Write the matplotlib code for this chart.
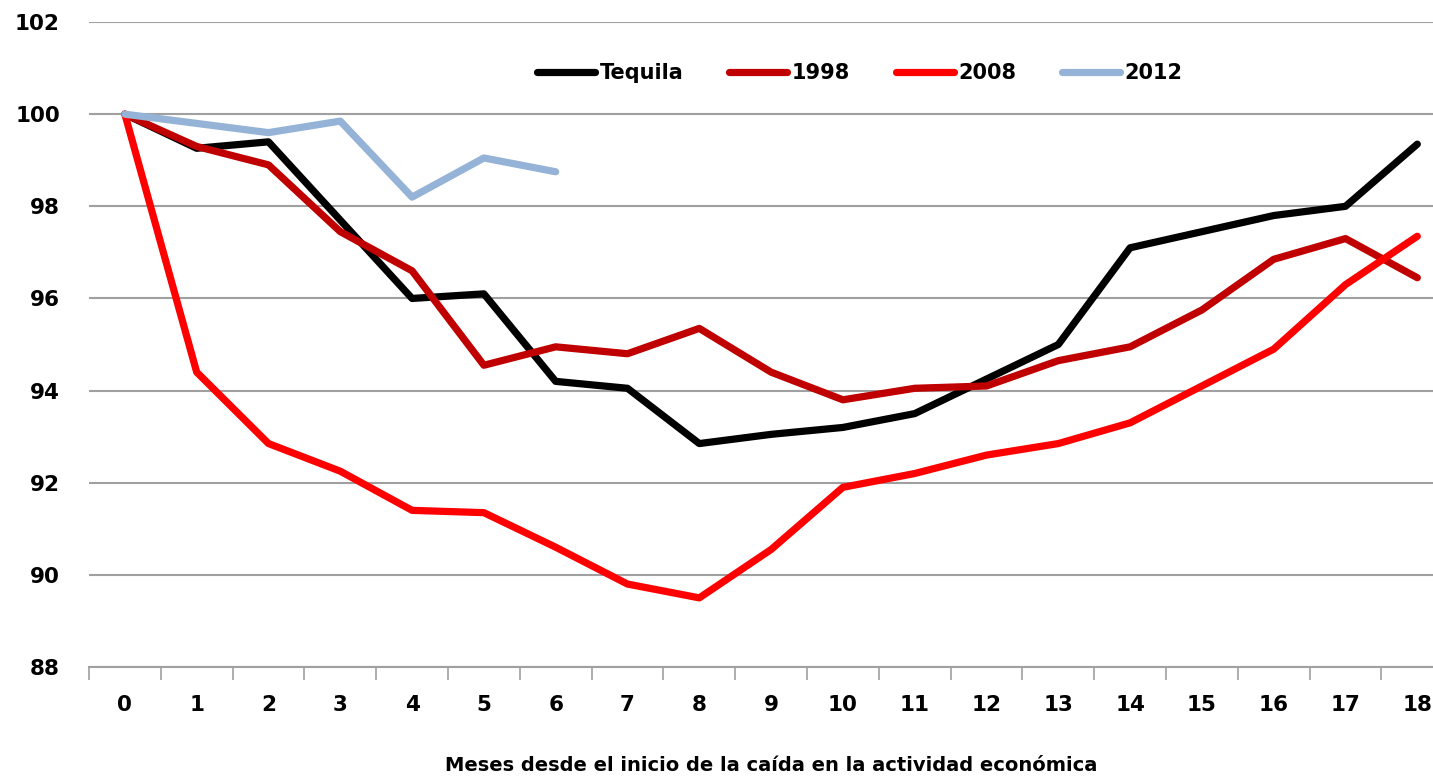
import matplotlib.pyplot as plt
import numpy as np

months = list(range(19))
tequila = [100, 99.26, 99.4, 97.7, 96.0, 96.1, 94.2, 94.05, 92.85, 93.05, 93.2,
           93.5, 94.25, 95.0, 97.1, 97.45, 97.8, 98.0, 99.35]
y1998 = [100, 99.3, 98.9, 97.45, 96.6, 94.55, 94.95, 94.8, 95.35, 94.4, 93.8,
         94.05, 94.1, 94.65, 94.95, 95.75, 96.85, 97.3, 96.45]
y2008 = [100, 94.4, 92.85, 92.25, 91.4, 91.35, 90.6, 89.8, 89.5, 90.55, 91.9,
         92.2, 92.6, 92.85, 93.3, 94.1, 94.9, 96.3, 97.35]
y2012 = [100, 99.8, 99.6, 99.85, 98.2, 99.05, 98.75]

fig = plt.figure(figsize=(14.33, 7.77), dpi=100)
ax = fig.add_axes([0.0621, 0.1416, 0.952, 0.830])

lw = 5.2
ax.plot(months, tequila, color='black', lw=lw, label='Tequila', solid_capstyle='round')
ax.plot(months, y1998, color='#C00000', lw=lw, label='1998', solid_capstyle='round')
ax.plot(months, y2008, color='#FF0000', lw=lw, label='2008', solid_capstyle='round')
ax.plot(months[:len(y2012)], y2012, color='#95B3D7', lw=lw, label='2012', solid_capstyle='round')

ax.set_ylim(88, 102)
ax.set_xlim(-0.5, 18.5)
ax.set_yticks(np.arange(88, 103, 2))
ax.yaxis.grid(True, color='#A0A0A0', lw=1.5)
ax.set_axisbelow(True)
ax.tick_params(axis='y', length=0, pad=21, labelsize=15.5)
for lab in ax.get_yticklabels():
    lab.set_fontweight('bold')

ax.set_xticks(months)
ax.set_xticklabels([str(m) for m in months], fontsize=15.5, fontweight='bold')
ax.set_xticks(np.arange(-0.5, 19, 1), minor=True)
ax.tick_params(axis='x', which='major', length=0, pad=20)
ax.tick_params(axis='x', which='minor', length=9, color='#A0A0A0', width=1.2)

for s in ['left', 'right', 'top']:
    ax.spines[s].set_visible(False)
ax.spines['bottom'].set_color('#A0A0A0')
ax.spines['bottom'].set_linewidth(1.5)

ax.set_xlabel('Meses desde el inicio de la caída en la actividad económica',
              fontsize=14, fontweight='bold', labelpad=30)

leg = ax.legend(loc='center', bbox_to_anchor=(0.565, 0.921), ncol=4, frameon=False,
                prop={'weight': 'bold', 'size': 15}, handlelength=2.8,
                handletextpad=0.2, columnspacing=2.2)

fig.savefig('out.png', dpi=100)
